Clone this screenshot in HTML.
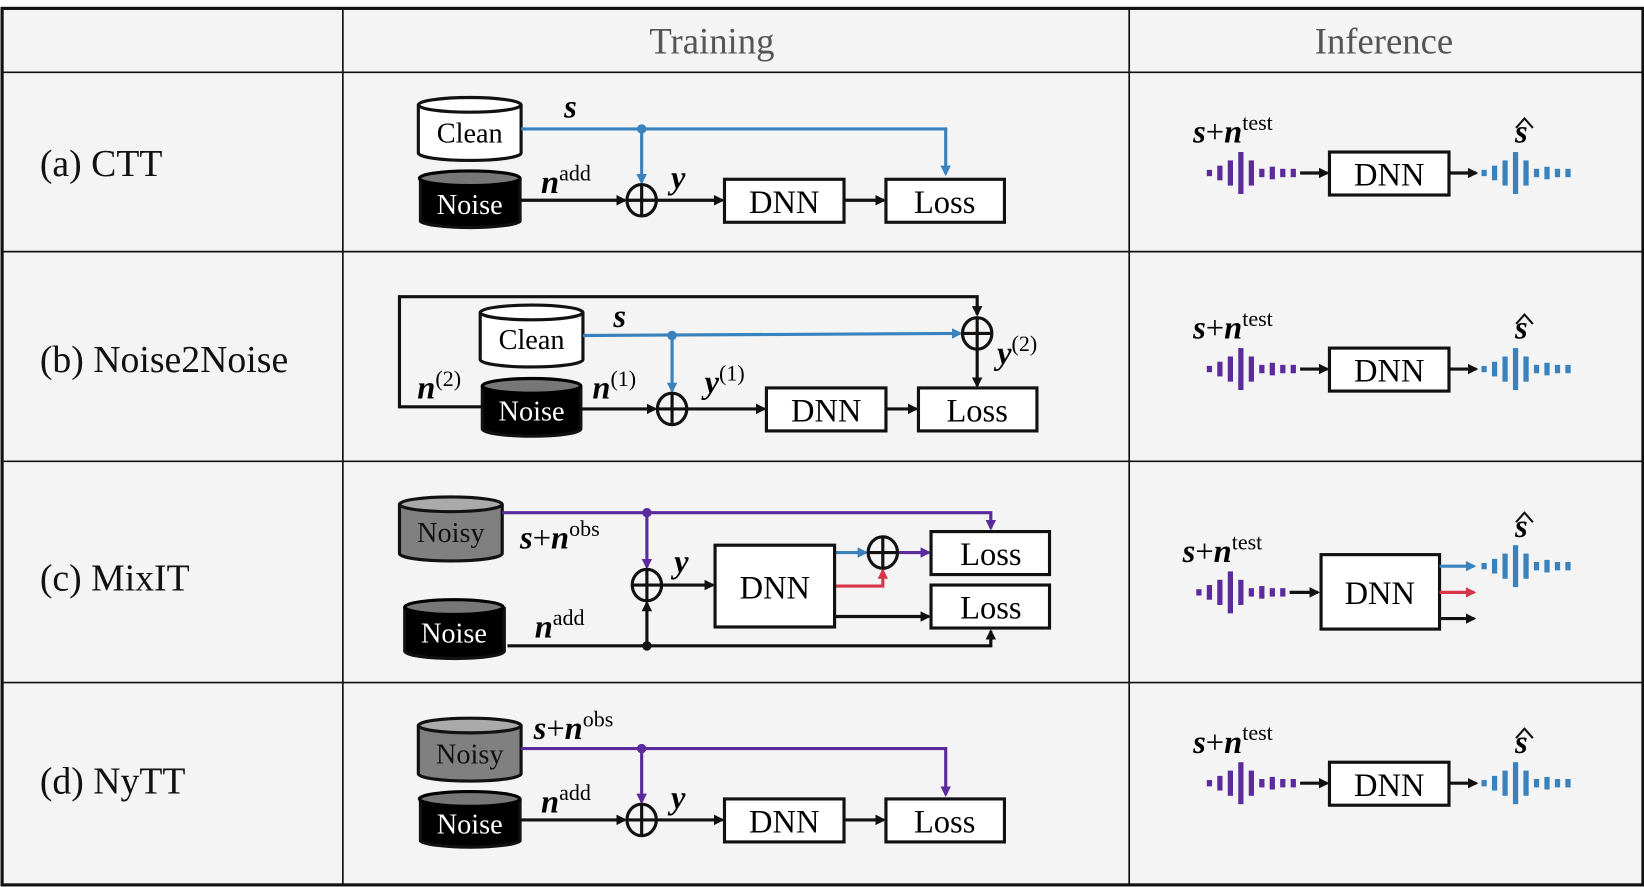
<!DOCTYPE html>
<html><head><meta charset="utf-8"><style>
html,body{margin:0;padding:0;background:#fff;}
svg{display:block;}
svg text{font-family:"Liberation Serif","Times New Roman","DejaVu Serif",serif;}
.m{font-style:italic;font-weight:bold;font-size:31px;}
.sup{font-style:normal;font-weight:normal;font-size:21px;}
.lbl{font-size:36px;fill:#111;}
.hd{font-size:35px;fill:#555;}
.bx{font-size:31px;text-anchor:middle;}
</style></head><body>
<svg width="1644" height="887" viewBox="0 0 1568 846" xmlns="http://www.w3.org/2000/svg" font-family="Liberation Serif, Times New Roman, serif">
<defs>
<marker id="ak" markerWidth="10" markerHeight="10" refX="8" refY="5" orient="auto" markerUnits="userSpaceOnUse"><path d="M0,0 L10,5 L0,10z" fill="#111"/></marker>
<marker id="ab" markerWidth="10" markerHeight="10" refX="8" refY="5" orient="auto" markerUnits="userSpaceOnUse"><path d="M0,0 L10,5 L0,10z" fill="#3a82bd"/></marker>
<marker id="ap" markerWidth="10" markerHeight="10" refX="8" refY="5" orient="auto" markerUnits="userSpaceOnUse"><path d="M0,0 L10,5 L0,10z" fill="#5b2a9c"/></marker>
<marker id="ar" markerWidth="10" markerHeight="10" refX="8" refY="5" orient="auto" markerUnits="userSpaceOnUse"><path d="M0,0 L10,5 L0,10z" fill="#d8344a"/></marker>
<g id="wp" fill="#5b2a9c">
<rect x="0" y="-3" width="5" height="6"/><rect x="10" y="-7" width="5" height="14"/><rect x="20" y="-12" width="5" height="24"/><rect x="30" y="-20" width="5" height="40"/><rect x="40" y="-12" width="5" height="24"/><rect x="50" y="-4" width="5" height="8"/><rect x="60" y="-6" width="5" height="12"/><rect x="70" y="-4" width="5" height="8"/><rect x="80" y="-4" width="5" height="8"/>
</g>
<g id="wb" fill="#3a82bd">
<rect x="0" y="-3" width="5" height="6"/><rect x="10" y="-7" width="5" height="14"/><rect x="20" y="-12" width="5" height="24"/><rect x="30" y="-20" width="5" height="40"/><rect x="40" y="-12" width="5" height="24"/><rect x="50" y="-4" width="5" height="8"/><rect x="60" y="-6" width="5" height="12"/><rect x="70" y="-4" width="5" height="8"/><rect x="80" y="-4" width="5" height="8"/>
</g>
<g id="sum"><ellipse cx="0" cy="0" rx="14" ry="15" fill="none" stroke="#111" stroke-width="3"/><line x1="-14" y1="0" x2="14" y2="0" stroke="#111" stroke-width="3"/><line x1="0" y1="-15" x2="0" y2="15" stroke="#111" stroke-width="3"/></g>
</defs>
<rect x="0" y="0" width="1568" height="846" fill="#fff"/>
<rect x="2" y="8" width="1565" height="836" fill="#f4f4f4" stroke="#111" stroke-width="3"/>
<g stroke="#111" stroke-width="1.6">
<line x1="2" y1="69" x2="1567" y2="69"/><line x1="2" y1="240" x2="1567" y2="240"/><line x1="2" y1="440" x2="1567" y2="440"/><line x1="2" y1="651" x2="1567" y2="651"/>
<line x1="327" y1="8" x2="327" y2="844"/><line x1="1077" y1="8" x2="1077" y2="844"/>
</g>
<text class="hd" x="679" y="51" text-anchor="middle">Training</text>
<text class="hd" x="1320" y="51" text-anchor="middle">Inference</text>
<text class="lbl" x="38" y="168">(a) CTT</text>
<text class="lbl" x="38" y="355">(b) Noise2Noise</text>
<text class="lbl" x="38" y="563">(c) MixIT</text>
<text class="lbl" x="38" y="757">(d) NyTT</text>

<!-- Row a -->
<g stroke="#111" stroke-width="3">
<path d="M399,100 V146 A49,7 0 0 0 497,146 V100" fill="#fff"/><ellipse cx="448" cy="100" rx="49" ry="7" fill="#fff"/>
<path d="M401,170 V211 A48,7 0 0 0 496,211 V170" fill="#000"/><ellipse cx="448" cy="170" rx="48" ry="7" fill="#777" stroke="#000"/>
</g>
<text class="bx" x="448" y="136" style="font-size:27px">Clean</text>
<text class="bx" x="448" y="204" fill="#fff" style="font-size:27px">Noise</text>
<g fill="none" stroke-width="3">
<path d="M497,123 H902 V166" stroke="#3a82bd" marker-end="url(#ab)"/>
<path d="M612,123 V174" stroke="#3a82bd" marker-end="url(#ab)"/>
<path d="M497,191 H596" stroke="#111" marker-end="url(#ak)"/>
<path d="M626,191 H689" stroke="#111" marker-end="url(#ak)"/>
<path d="M805,191 H843" stroke="#111" marker-end="url(#ak)"/>
</g>
<circle cx="612" cy="123" r="4.5" fill="#3a82bd"/>
<use href="#sum" x="612" y="191"/>
<rect x="691" y="171" width="114" height="41" fill="#fff" stroke="#111" stroke-width="3"/>
<rect x="845" y="171" width="113" height="41" fill="#fff" stroke="#111" stroke-width="3"/>
<text class="bx" x="748" y="203">DNN</text><text class="bx" x="901" y="203">Loss</text>
<text class="m" x="538" y="112">s</text>
<text class="m" x="516" y="184">n<tspan class="sup" dy="-12">add</tspan></text>
<text class="m" x="640" y="180">y</text>

<!-- Row b -->
<g stroke="#111" stroke-width="3">
<path d="M458,298 V343 A49,7 0 0 0 556,343 V298" fill="#fff"/><ellipse cx="507" cy="298" rx="49" ry="7" fill="#fff"/>
<path d="M460,368 V409 A47,7 0 0 0 554,409 V368" fill="#000"/><ellipse cx="507" cy="368" rx="47" ry="7" fill="#777" stroke="#000"/>
</g>
<text class="bx" x="507" y="333" style="font-size:27px">Clean</text>
<text class="bx" x="507" y="401" fill="#fff" style="font-size:27px">Noise</text>
<g fill="none" stroke-width="3">
<path d="M460,388 H381 V283 H932 V300" stroke="#111" marker-end="url(#ak)"/>
<path d="M556,320 L916,318" stroke="#3a82bd" marker-end="url(#ab)"/>
<path d="M641,320 V373" stroke="#3a82bd" marker-end="url(#ab)"/>
<path d="M554,390 H625" stroke="#111" marker-end="url(#ak)"/>
<path d="M655,390 H729" stroke="#111" marker-end="url(#ak)"/>
<path d="M845,390 H874" stroke="#111" marker-end="url(#ak)"/>
<path d="M932,333 V368" stroke="#111" marker-end="url(#ak)"/>
</g>
<circle cx="641" cy="320" r="4.5" fill="#3a82bd"/>
<use href="#sum" x="641" y="390"/>
<use href="#sum" x="932" y="318"/>
<rect x="731" y="370" width="114" height="41" fill="#fff" stroke="#111" stroke-width="3"/>
<rect x="876" y="370" width="113" height="41" fill="#fff" stroke="#111" stroke-width="3"/>
<text class="bx" x="788" y="402">DNN</text><text class="bx" x="932" y="402">Loss</text>
<text class="m" x="585" y="312">s</text>
<text class="m" x="398" y="380">n<tspan class="sup" dy="-12">(2)</tspan></text>
<text class="m" x="565" y="380">n<tspan class="sup" dy="-12">(1)</tspan></text>
<text class="m" x="672" y="375">y<tspan class="sup" dy="-12">(1)</tspan></text>
<text class="m" x="951" y="347">y<tspan class="sup" dy="-12">(2)</tspan></text>

<!-- Row c -->
<g stroke="#111" stroke-width="3">
<path d="M381,481 V528 A49,7 0 0 0 479,528 V481" fill="#808080"/><ellipse cx="430" cy="481" rx="49" ry="7" fill="#aaa"/>
<path d="M386,579 V621 A47,7 0 0 0 481,621 V579" fill="#000"/><ellipse cx="433" cy="579" rx="47" ry="7" fill="#777" stroke="#000"/>
</g>
<text class="bx" x="430" y="517" fill="#111" style="font-size:27px">Noisy</text>
<text class="bx" x="433" y="613" fill="#fff" style="font-size:27px">Noise</text>
<g fill="none" stroke-width="3">
<path d="M479,489 H945 V504" stroke="#5b2a9c" marker-end="url(#ap)"/>
<path d="M617,489 V541" stroke="#5b2a9c" marker-end="url(#ap)"/>
<path d="M484,616 H945 V602" stroke="#111" marker-end="url(#ak)"/>
<path d="M617,616 V575" stroke="#111" marker-end="url(#ak)"/>
<path d="M631,558 H680" stroke="#111" marker-end="url(#ak)"/>
<path d="M796,527 H826" stroke="#3a82bd" marker-end="url(#ab)"/>
<path d="M796,559 H842 V544" stroke="#d8344a" marker-end="url(#ar)"/>
<path d="M856,527 H886" stroke="#5b2a9c" marker-end="url(#ap)"/>
<path d="M796,588 H886" stroke="#111" marker-end="url(#ak)"/>
</g>
<circle cx="617" cy="489" r="4.5" fill="#5b2a9c"/>
<circle cx="617" cy="616" r="4.5" fill="#111"/>
<use href="#sum" x="617" y="558"/>
<use href="#sum" x="842" y="527"/>
<rect x="682" y="520" width="114" height="78" fill="#fff" stroke="#111" stroke-width="3"/>
<rect x="888" y="507" width="113" height="41" fill="#fff" stroke="#111" stroke-width="3"/>
<rect x="888" y="558" width="113" height="41" fill="#fff" stroke="#111" stroke-width="3"/>
<text class="bx" x="739" y="571">DNN</text><text class="bx" x="945" y="539">Loss</text><text class="bx" x="945" y="590">Loss</text>
<text class="m" x="496" y="523">s<tspan style="font-style:normal;font-weight:normal">+</tspan>n<tspan class="sup" dy="-12">obs</tspan></text>
<text class="m" x="643" y="546">y</text>
<text class="m" x="510" y="608">n<tspan class="sup" dy="-12">add</tspan></text>

<!-- Row d -->
<g stroke="#111" stroke-width="3">
<path d="M399,692 V738 A49,7 0 0 0 497,738 V692" fill="#808080"/><ellipse cx="448" cy="692" rx="49" ry="7" fill="#aaa"/>
<path d="M401,762 V802 A48,7 0 0 0 496,802 V762" fill="#000"/><ellipse cx="448" cy="762" rx="48" ry="7" fill="#777" stroke="#000"/>
</g>
<text class="bx" x="448" y="728" fill="#111" style="font-size:27px">Noisy</text>
<text class="bx" x="448" y="795" fill="#fff" style="font-size:27px">Noise</text>
<g fill="none" stroke-width="3">
<path d="M497,714 H902 V758" stroke="#5b2a9c" marker-end="url(#ap)"/>
<path d="M612,714 V765" stroke="#5b2a9c" marker-end="url(#ap)"/>
<path d="M497,782 H596" stroke="#111" marker-end="url(#ak)"/>
<path d="M626,782 H689" stroke="#111" marker-end="url(#ak)"/>
<path d="M805,782 H843" stroke="#111" marker-end="url(#ak)"/>
</g>
<circle cx="612" cy="714" r="4.5" fill="#5b2a9c"/>
<use href="#sum" x="612" y="782"/>
<rect x="691" y="762" width="114" height="41" fill="#fff" stroke="#111" stroke-width="3"/>
<rect x="845" y="762" width="113" height="41" fill="#fff" stroke="#111" stroke-width="3"/>
<text class="bx" x="748" y="794">DNN</text><text class="bx" x="901" y="794">Loss</text>
<text class="m" x="509" y="705">s<tspan style="font-style:normal;font-weight:normal">+</tspan>n<tspan class="sup" dy="-12">obs</tspan></text>
<text class="m" x="516" y="775">n<tspan class="sup" dy="-12">add</tspan></text>
<text class="m" x="640" y="771">y</text>

<!-- Inference a, b, d -->
<g id="inf">
<text class="m" x="1138" y="136">s<tspan style="font-style:normal;font-weight:normal">+</tspan>n<tspan class="sup" dy="-12">test</tspan></text>
<text class="m" x="1445" y="136">s</text>
<path d="M1446,122 L1454,113 L1462,122" fill="none" stroke="#111" stroke-width="2"/>
<use href="#wp" x="1151" y="165"/>
<path d="M1240,165 H1266" stroke="#111" stroke-width="3" fill="none" marker-end="url(#ak)"/>
<rect x="1268" y="145" width="114" height="41" fill="#fff" stroke="#111" stroke-width="3"/>
<text class="bx" x="1325" y="177">DNN</text>
<path d="M1382,165 H1408" stroke="#111" stroke-width="3" fill="none" marker-end="url(#ak)"/>
<use href="#wb" x="1413" y="165"/>
</g>
<use href="#inf" x="0" y="187"/>
<use href="#inf" x="0" y="582"/>

<!-- Inference c -->
<text class="m" x="1128" y="536">s<tspan style="font-style:normal;font-weight:normal">+</tspan>n<tspan class="sup" dy="-12">test</tspan></text>
<text class="m" x="1445" y="512">s</text>
<path d="M1446,498 L1454,489 L1462,498" fill="none" stroke="#111" stroke-width="2"/>
<use href="#wp" x="1141" y="565"/>
<path d="M1230,565 H1257" stroke="#111" stroke-width="3" fill="none" marker-end="url(#ak)"/>
<rect x="1260" y="529" width="113" height="71" fill="#fff" stroke="#111" stroke-width="3"/>
<text class="bx" x="1316" y="576">DNN</text>
<path d="M1373,540 H1406" stroke="#3a82bd" stroke-width="3" fill="none" marker-end="url(#ab)"/>
<path d="M1373,565 H1406" stroke="#d8344a" stroke-width="3" fill="none" marker-end="url(#ar)"/>
<path d="M1373,590 H1406" stroke="#111" stroke-width="3" fill="none" marker-end="url(#ak)"/>
<use href="#wb" x="1413" y="540"/>
</svg>
</body></html>
